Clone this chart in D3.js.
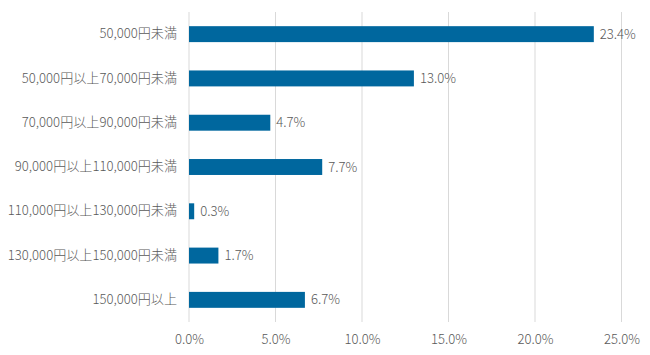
<!DOCTYPE html>
<html><head><meta charset="utf-8">
<script src="https://cdn.jsdelivr.net/npm/d3@7"></script>
<style>
html,body{margin:0;padding:0;background:#fff;}
text{font-family:"Noto Sans CJK JP","Noto Sans",sans-serif;fill:#595959;}
</style></head>
<body>
<svg id="chart" width="650" height="355"></svg>
<script>
const categories = ["50,000円未満","50,000円以上70,000円未満","70,000円以上90,000円未満","90,000円以上110,000円未満","110,000円以上130,000円未満","130,000円以上150,000円未満","150,000円以上"];
const values = [23.4, 13.0, 4.7, 7.7, 0.3, 1.7, 6.7];
const ticks = [0, 5, 10, 15, 20, 25];

const svg = d3.select("#chart");
const m = {left:189, right:650-621.5, top:12, bottom:355-322};
const W = 650, H = 355;
const FS = "13.1px";
const x = d3.scaleLinear().domain([0,25]).range([m.left, W-m.right]);
const y = d3.scaleBand().domain(categories).range([m.top, H-m.bottom]).paddingInner(0.64).paddingOuter(0.32);

// gridlines
svg.append("g").selectAll("line").data(ticks).join("line")
  .attr("x1", d=>x(d)).attr("x2", d=>x(d))
  .attr("y1", m.top).attr("y2", H-m.bottom)
  .attr("stroke", "#d9d9d9").attr("stroke-width", 1);

// x axis labels
const xAxis = d3.axisBottom(x).tickValues(ticks).tickFormat(d=>d.toFixed(1)+"%").tickSize(0).tickPadding(13);
const gx = svg.append("g").attr("transform", `translate(0,${H-m.bottom})`).call(xAxis);
gx.select(".domain").remove();
gx.selectAll("text").style("font-size",FS).style("font-weight","300").attr("fill","#595959").style("font-family",'"Noto Sans CJK JP",sans-serif');

// y axis labels
const yAxis = d3.axisLeft(y).tickSize(0).tickPadding(12);
const gy = svg.append("g").attr("transform", `translate(${m.left},0)`).call(yAxis);
gy.select(".domain").remove();
gy.selectAll("text").style("font-size",FS).style("font-weight","300").attr("fill","#595959").style("font-family",'"Noto Sans CJK JP",sans-serif');

// bars
svg.append("g").selectAll("rect").data(values).join("rect")
  .attr("x", x(0)).attr("y", (d,i)=>y(categories[i]))
  .attr("width", d=>x(d)-x(0)).attr("height", y.bandwidth())
  .attr("fill", "#00679e");

// value labels
svg.append("g").selectAll("text").data(values).join("text")
  .attr("x", d=>x(d)+6).attr("y", (d,i)=>y(categories[i])+y.bandwidth()/2)
  .attr("dy","0.35em").style("font-size",FS).style("font-weight","300")
  .text(d=>d.toFixed(1)+"%");
</script>
</body></html>
